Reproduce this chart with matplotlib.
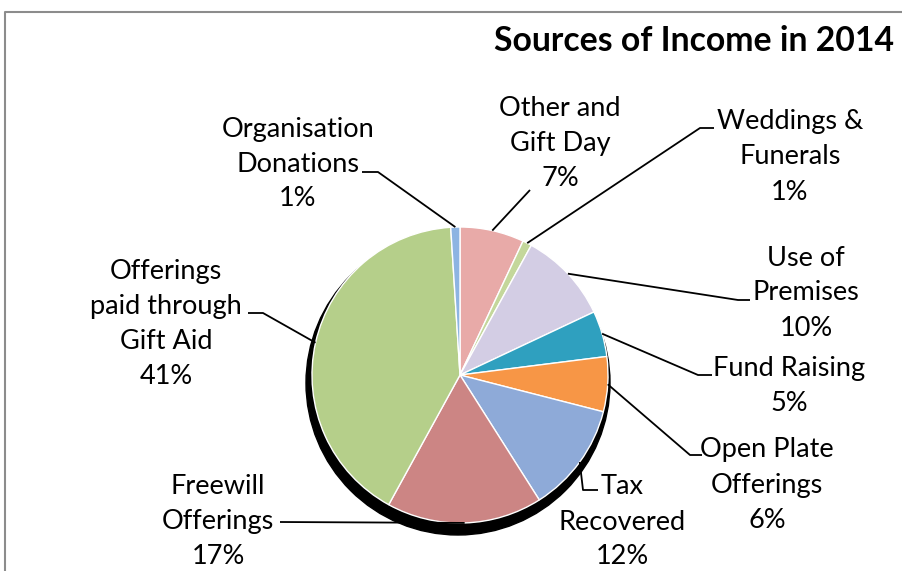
import numpy as np
import matplotlib
matplotlib.use("Agg")
import matplotlib.pyplot as plt
from matplotlib.patches import Circle

plt.rcParams['font.family'] = ['Lato', 'DejaVu Sans']

# Slices, clockwise from 12 o'clock
labels = ["Other and\nGift Day", "Weddings &\nFunerals", "Use of\nPremises",
          "Fund Raising", "Open Plate\nOfferings", "Tax\nRecovered",
          "Freewill\nOfferings", "Offerings\npaid through\nGift Aid",
          "Organisation\nDonations"]
shares = [7, 1, 10, 5, 6, 12, 17, 41, 1]
colors = ['#e8aaa8', '#c4d79b', '#d3cde4', '#2fa0bf', '#f79646',
          '#8eaad8', '#cc8584', '#b5cf8a', '#8db4e2']

# label centre and leader-line elbow, in pixel coordinates (y from top)
label_pos = [(560, 144), (790, 157), (806, 293), (789, 386), (767, 485),
             (622, 522), (218, 521), (166, 324), (298, 164)]
elbows = [[(530, 190)], [(700, 128), (714, 128)], [(738, 300), (750, 300)],
          [(698, 375), (712, 375)], [(690, 455), (702, 455)],
          [(583, 490), (598, 490)], [(280, 522)], [(263, 313), (248, 313)],
          [(378, 172), (362, 172)]]

W, H = 902, 571
cx, cy, R = 460, 375, 148

fig = plt.figure(figsize=(W / 100, H / 100), dpi=100)
ax = fig.add_axes([0, 0, 1, 1])

# drop shadow behind the pie
ax.add_patch(Circle((cx - 2, H - cy - 8), R + 4, color='black', zorder=0))

wedges, _ = ax.pie(shares, colors=colors, startangle=90, counterclock=False,
                   center=(cx, H - cy), radius=R, frame=True,
                   wedgeprops=dict(edgecolor='white', linewidth=1.0))
ax.set_xlim(0, W)
ax.set_ylim(0, H)
ax.set_aspect('equal')
ax.axis('off')

for w, lab, s, (tx, ty), elb in zip(wedges, labels, shares, label_pos, elbows):
    mid = np.deg2rad((w.theta1 + w.theta2) / 2)
    ax_x = cx + R * np.cos(mid)
    ax_y = (H - cy) + R * np.sin(mid)
    xs = [ax_x] + [p[0] for p in elb]
    ys = [ax_y] + [H - p[1] for p in elb]
    ax.plot(xs, ys, color='black', lw=1.3, solid_capstyle='butt')
    ax.text(tx, H - ty, f"{lab}\n{s}%", ha='center', va='center',
            fontsize=19.5, linespacing=1.5)

ax.text(494, H - 41, "Sources of Income in 2014", ha='left', va='center',
        fontsize=24.3, fontweight='bold')

# chart frame
ax.plot([5, 5, W + 5], [-5, H - 12, H - 12], color='#8c8c8c', lw=1.5)

fig.savefig("out.png", dpi=100)
